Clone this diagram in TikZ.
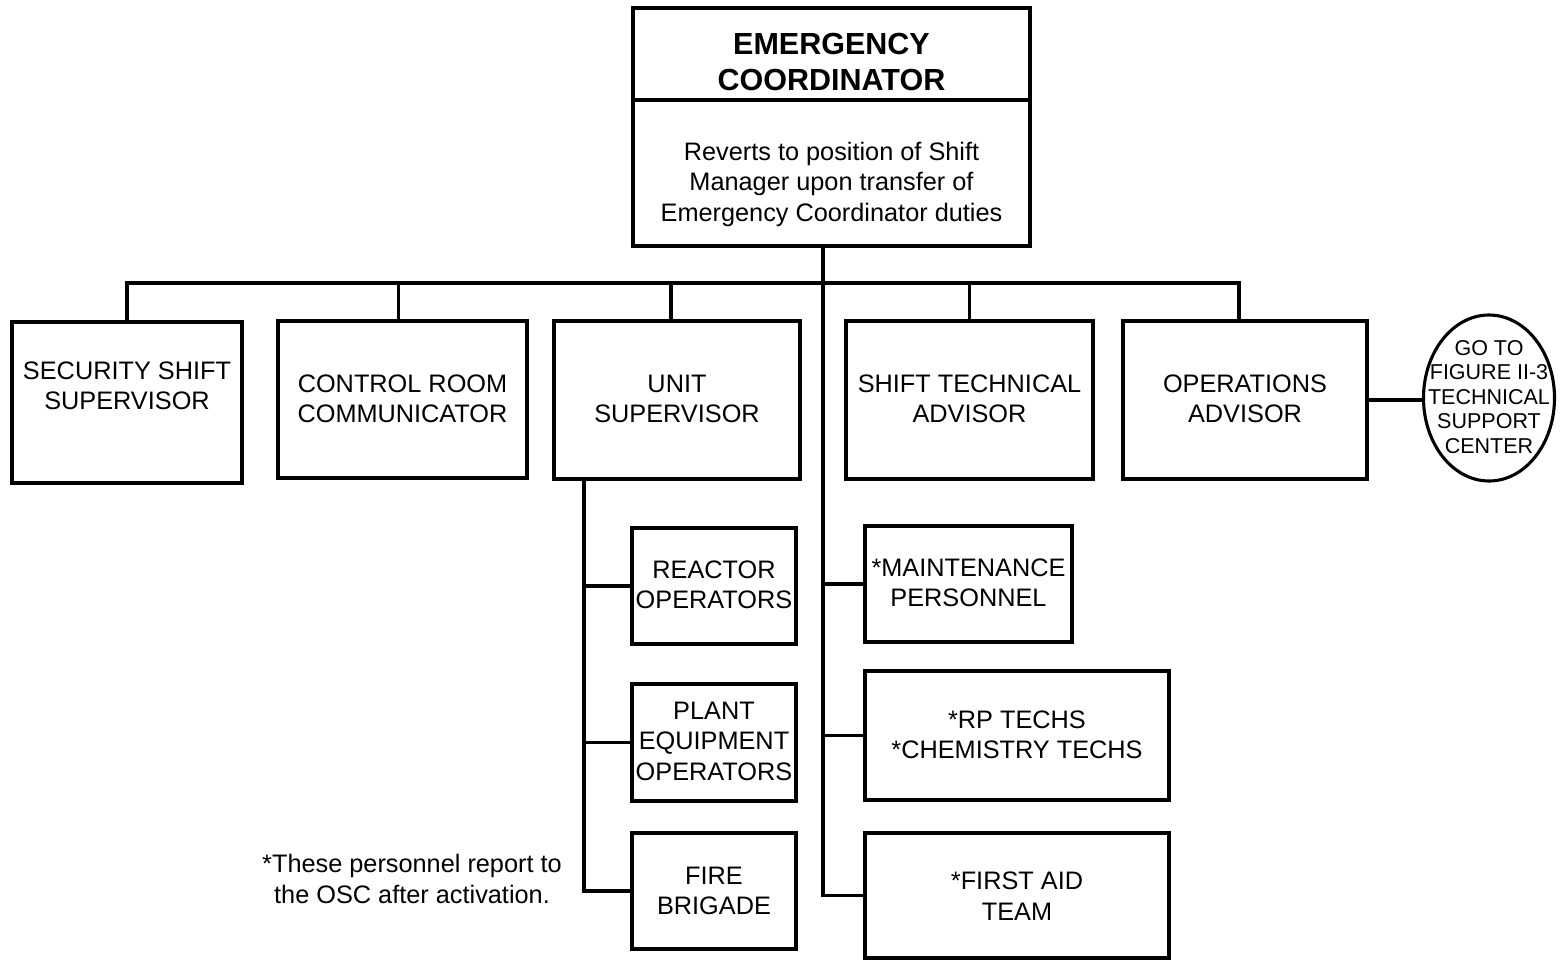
\documentclass[tikz,border=0pt]{standalone}
\usepackage{fontspec}
\setmainfont{Liberation Sans}
\usetikzlibrary{shapes.geometric,calc}
\begin{document}
\begin{tikzpicture}[x=1pt,y=-1pt,line width=3.1pt,
  box/.style={draw,rectangle,inner sep=0pt},
  oval/.style={draw,ellipse,inner sep=0pt},
  txt/.style={align=center,inner sep=0pt,font=\fontsize{25.3}{30.5}\selectfont},
  headtxt/.style={align=center,inner sep=0pt,font=\fontsize{30.5}{36}\selectfont\bfseries},
  notetxt/.style={align=center,inner sep=0pt,font=\fontsize{25.3}{30.5}\selectfont},
  smalltxt/.style={align=center,inner sep=0pt,font=\fontsize{21.5}{24.5}\selectfont},
  link/.style={draw,line width=3.1pt}]
\useasboundingbox (0,0) rectangle (1561,961);
% boxes
\node[box,minimum width=397pt,minimum height=92pt] (ecTop) at (831.5,54) {};
\node[box,minimum width=397pt,minimum height=146pt] (ecBot) at (831.5,173) {};
\node[box,minimum width=230pt,minimum height=161pt] (sec) at (127,402.5) {};
\node[box,minimum width=249pt,minimum height=157pt] (crc) at (402.5,399.5) {};
\node[box,minimum width=246pt,minimum height=158pt] (unit) at (677,400) {};
\node[box,minimum width=247pt,minimum height=158pt] (sta) at (969.5,400) {};
\node[box,minimum width=244pt,minimum height=158pt] (ops) at (1245,400) {};
\node[box,minimum width=164pt,minimum height=116pt] (reac) at (714,586) {};
\node[box,minimum width=164pt,minimum height=117pt] (plant) at (714,742.5) {};
\node[box,minimum width=164pt,minimum height=116pt] (fire) at (714,891) {};
\node[box,minimum width=207pt,minimum height=116pt] (maint) at (968.5,584) {};
\node[box,minimum width=304pt,minimum height=129pt] (rp) at (1017,735.5) {};
\node[box,minimum width=304pt,minimum height=125pt] (faid) at (1017,895.5) {};
\node[oval,minimum width=131pt,minimum height=166pt] (goto) at (1489,398) {};
% texts
\node[headtxt] (tEC) at (831.5,62) {EMERGENCY\\COORDINATOR};
\node[notetxt] (tRev) at (831.5,184) {Reverts to position of Shift\\Manager upon transfer of\\Emergency Coordinator duties};
\node[txt] (tSec) at (127,386) {SECURITY SHIFT\\SUPERVISOR};
\node[txt] (tCrc) at (402.5,399) {CONTROL ROOM\\COMMUNICATOR};
\node[txt] (tUnit) at (677,399) {UNIT\\SUPERVISOR};
\node[txt] (tSta) at (969.5,399) {SHIFT TECHNICAL\\ADVISOR};
\node[txt] (tOps) at (1245,399) {OPERATIONS\\ADVISOR};
\node[txt] (tReac) at (714,585) {REACTOR\\OPERATORS};
\node[txt] (tPlant) at (714,741) {PLANT\\EQUIPMENT\\OPERATORS};
\node[txt] (tFire) at (714,891) {FIRE\\BRIGADE};
\node[txt] (tMaint) at (968.5,583) {*MAINTENANCE\\PERSONNEL};
\node[txt] (tRp) at (1017,735) {*RP TECHS\\*CHEMISTRY TECHS};
\node[txt] (tFaid) at (1017,896) {*FIRST AID\\TEAM};
\node[notetxt] (tNote) at (412,879) {*These personnel report to\\the OSC after activation.};
\node[smalltxt] (tGoto) at (1489,397) {GO TO\\FIGURE II-3\\TECHNICAL\\SUPPORT\\CENTER};
% connector points
\coordinate (trunk) at (823,246);
\coordinate (bus) at (823,283);
\coordinate (usub) at (584,479);
\coordinate (dCrc) at ($(crc.north)+(-4,0)$);
\coordinate (dUnit) at ($(unit.north)+(-6,0)$);
\coordinate (dOps) at ($(ops.north)+(-6,0)$);
% connectors
\draw[link] (trunk) |- (faid.west);
\draw[link] (sec.north) -- (sec.north |- bus) -- (dOps |- bus) -- (dOps);
\draw[link] (dCrc) -- (dCrc |- bus);
\draw[link] (dUnit) -- (dUnit |- bus);
\draw[link] (sta.north) -- (sta.north |- bus);
\draw[link] (trunk |- maint.west) -- (maint.west);
\draw[link] (trunk |- rp.west) -- (rp.west);
\draw[link] (usub) |- (fire.west);
\draw[link] (usub |- reac.west) -- (reac.west);
\draw[link] (usub |- plant.west) -- (plant.west);
\draw[link] (ops.east) -- (ops.east -| goto.west);
\end{tikzpicture}
\end{document}
